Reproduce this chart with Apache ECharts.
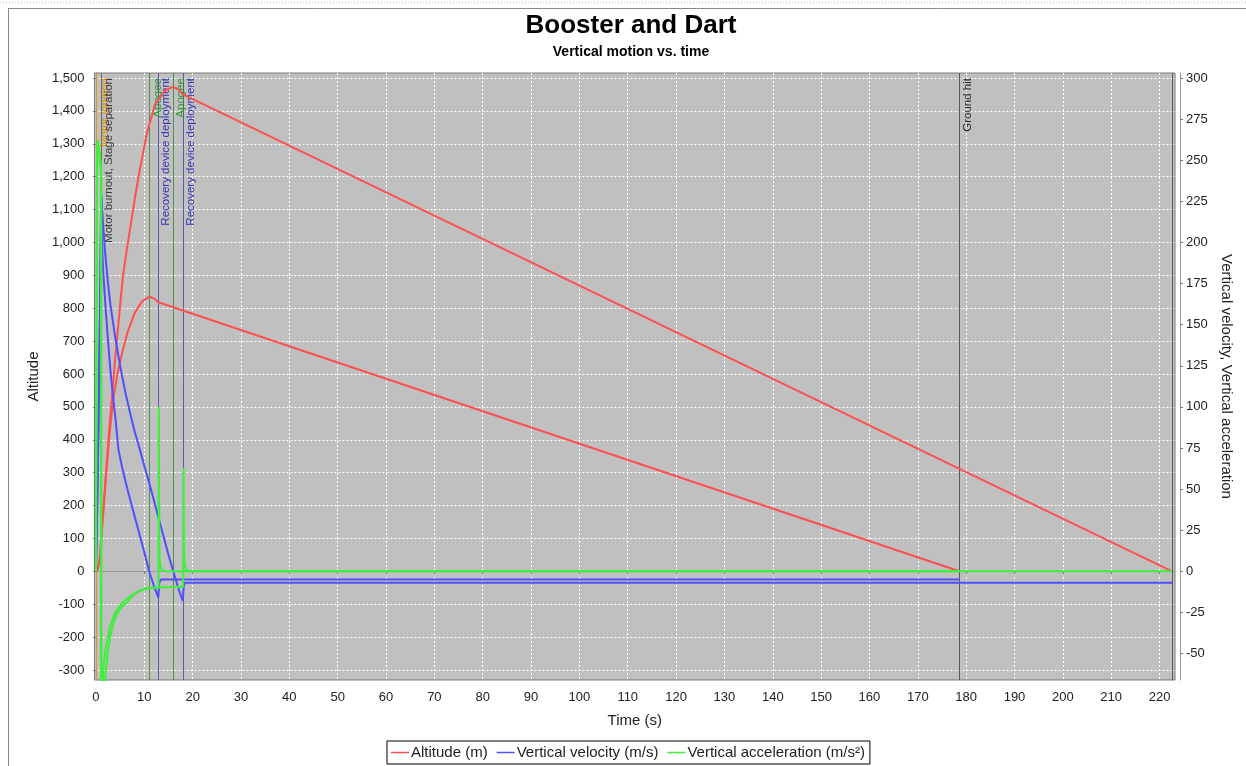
<!DOCTYPE html>
<html>
<head>
<meta charset="utf-8">
<script src="https://cdn.jsdelivr.net/npm/echarts@6/dist/echarts.min.js"></script>
<style>
html,body{margin:0;padding:0;background:#fff;}
#chart{width:1246px;height:766px;}
</style>
</head>
<body>
<div id="chart"></div>
<script>
// ---------- data ----------
const titleText = 'Booster and Dart';
const subtitleText = 'Vertical motion vs. time';
const xAxisName = 'Time (s)';
const leftAxisName = 'Altitude';
const rightAxisName = 'Vertical velocity, Vertical acceleration';
const legendNames = ['Altitude (m)', 'Vertical velocity (m/s)', 'Vertical acceleration (m/s²)'];

const xTicks = [0,10,20,30,40,50,60,70,80,90,100,110,120,130,140,150,160,170,180,190,200,210,220];
const altTicks = [-300,-200,-100,0,100,200,300,400,500,600,700,800,900,1000,1100,1200,1300,1400,1500];
const rightTicks = [-50,-25,0,25,50,75,100,125,150,175,200,225,250,275,300];

// Booster altitude (m)
const boosterAltTime = [0,0.4,0.8,1.1,1.6,2.0,2.55,3.0,3.6,4.5,5.6,6.5,8.0,9.5,11.0,12.0,12.9,13.3,178.6];
const boosterAlt     = [0,8,40,100,195,270,375,445,525,605,675,725,785,820,835,830,818,813,0];
// Dart altitude (m)
const dartAltTime = [0,0.4,0.8,1.1,1.6,2.0,2.55,3.0,4.0,5.0,5.6,6.35,8.05,9.0,10.5,12.2,14.3,15.9,17.0,18.0,18.3,222.6];
const dartAlt     = [0,8,40,100,205,285,395,475,650,810,900,975,1134,1215,1330,1420,1462,1473,1466,1450,1447,0];

// Booster vertical velocity (m/s)
const boosterVelTime = [0,0.3,0.6,0.9,1.1,1.25,1.5,2.0,2.5,3.0,3.5,4.0,4.65,5.5,6.5,7.5,8.5,9.5,10.5,11.0,12.0,12.9,13.1,13.4,178.6];
const boosterVel     = [0,45,105,170,229,200,182,160,140,122,107,94,74,62,50,39,28,17,6,0,-9,-16,-7,-5,-5];
// Dart vertical velocity (m/s)
const dartVelTime = [0,0.3,0.6,0.9,1.1,1.5,1.86,2.5,3.0,4.0,5.0,6.0,7.0,8.0,9.1,10.0,11.0,12.0,13.0,14.0,15.0,16.0,17.0,17.95,18.15,18.4,222.6];
const dartVel     = [0,45,105,170,229,210,195,175,162,142,125,110,97,85,74,64,54,43,32,21,10,0,-10,-18,-9,-7,-7];

// Booster vertical acceleration (m/s²)
const boosterAccTime = [0,0.1,0.2,0.35,0.6,0.9,1.08,1.1,1.3,1.6,1.86,2.4,3.0,3.6,4.5,5.5,6.35,7.5,9.0,10.5,12.0,12.95,13.0,13.1,13.3,13.7,14.5,178.6];
const boosterAcc     = [0,120,235,262,258,250,242,-250,-150,-95,-67,-50,-39,-31.5,-25,-21,-19.3,-15,-12,-10.5,-10,-9.9,100,12,3,0.5,0,0];
// Dart vertical acceleration (m/s²)
const dartAccTime = [0,0.1,0.2,0.35,0.6,0.9,1.08,1.1,1.2,1.5,2.0,2.9,4.0,5.5,7.0,8.5,10.5,13.0,16.0,17.4,18.05,18.1,18.2,18.4,18.8,19.5,222.6];
const dartAcc     = [0,120,235,262,258,250,242,-120,-80,-60,-47,-33.7,-25,-19,-15.5,-12.5,-10.3,-9.9,-9.6,-9.4,-9.5,63,12,3,0.5,0,0];

// Flight events
const eventTimes = [0.1, 1.05, 11.05, 12.9, 15.9, 18.0, 178.6, 222.6];
const eventNames = ['Motor ignition','Motor burnout, Stage separation','Apogee','Recovery device deployment','Apogee','Recovery device deployment','Ground hit',''];
const eventKinds = ['ignition','burnout','apogee','recovery','apogee','recovery','ground','ground'];

// ---------- styles ----------
const FONT = '"Liberation Sans", Arial, sans-serif';
const kindStyle = {
  ignition: {line:'#d9962a', text:'#d98f10'},
  burnout:  {line:'#6e6e6e', text:'#3c3c3c'},
  apogee:   {line:'#4f8f4f', text:'#2f9a2f'},
  recovery: {line:'#5b5ba8', text:'#3535b5'},
  ground:   {line:'#5a5a5a', text:'#2a2a2a'}
};
const RED = '#ff4f4f', BLUE = '#4f4fff', GREEN = '#3cf03c';

const zip = (t, v) => t.map((x, i) => [x, v[i]]);

const eventData = eventTimes.map((t, i) => ({
  xAxis: t,
  name: eventNames[i],
  lineStyle: {color: kindStyle[eventKinds[i]].line, width: 1, type: 'solid'},
  label: {show: eventNames[i] !== '', color: kindStyle[eventKinds[i]].text}
}));

function lineSeries(name, data, color, yIdx) {
  return {
    name: name, type: 'line', data: data, yAxisIndex: yIdx,
    showSymbol: false, symbol: 'none', smooth: false,
    lineStyle: {color: color, width: 2}, itemStyle: {color: color},
    animation: false, silent: true, clip: true, z: 3
  };
}

const chart = echarts.init(document.getElementById('chart'), null, {renderer: 'canvas'});
const option = {
  backgroundColor: '#ffffff',
  animation: false,
  title: {
    text: titleText,
    subtext: subtitleText,
    left: 626, top: 8, textAlign: 'center', itemGap: 6,
    textStyle: {fontFamily: FONT, fontSize: 26, fontWeight: 'bold', color: '#000'},
    subtextStyle: {fontFamily: FONT, fontSize: 14, fontWeight: 'bold', color: '#000'}
  },
  graphic: [
    {type: 'line', shape: {x1: 8, y1: 8.5, x2: 1246, y2: 8.5}, style: {stroke: '#8a8a8a', lineWidth: 1}},
    {type: 'line', shape: {x1: 8.5, y1: 8, x2: 8.5, y2: 766}, style: {stroke: '#8a8a8a', lineWidth: 1}},
    {type: 'line', shape: {x1: 0, y1: 2.5, x2: 1246, y2: 2.5}, style: {stroke: '#d8d8d8', lineWidth: 2, lineDash: [1, 2]}}
  ],
  legend: {
    data: legendNames.map((n, i) => ({name: n, icon: 'rect', itemStyle: {color: [RED, BLUE, GREEN][i]}})),
    left: 387, bottom: 2,
    itemWidth: 18, itemHeight: 1.5, itemGap: 9,
    padding: [4, 5, 4, 4],
    borderColor: '#000', borderWidth: 1,
    textStyle: {fontFamily: FONT, fontSize: 15, color: '#222', padding: [0, 0, 0, -3]},
    selectedMode: false
  },
  grid: {left: 94.5, right: 71, top: 73, bottom: 86, show: true, backgroundColor: '#c0c0c0', borderColor: '#7a7a7a', borderWidth: 1, containLabel: false, outerBoundsMode: 'none'},
  xAxis: {
    type: 'value', min: -0.3, max: 223.2,
    name: xAxisName, nameLocation: 'middle', nameGap: 28,
    nameTextStyle: {fontFamily: FONT, fontSize: 15, color: '#222'},
    offset: 5,
    axisLine: {show: true, lineStyle: {color: '#9a9a9a'}},
    axisTick: {show: true, length: 3, customValues: xTicks, lineStyle: {color: '#777'}},
    axisLabel: {customValues: xTicks, fontFamily: FONT, fontSize: 13, color: '#222', margin: 6},
    splitLine: {show: true, lineStyle: {color: '#ffffff', type: [2, 2], width: 1}}
  },
  yAxis: [
    {
      type: 'value', min: -330.5, max: 1515.2, position: 'left',
      name: leftAxisName, nameLocation: 'middle', nameGap: 49,
      nameTextStyle: {fontFamily: FONT, fontSize: 15, color: '#222'},
      offset: 4,
      axisLine: {show: true, lineStyle: {color: '#9a9a9a'}},
      axisTick: {show: true, length: 3, customValues: altTicks, lineStyle: {color: '#777'}},
      axisLabel: {customValues: altTicks, fontFamily: FONT, fontSize: 13, color: '#222', margin: 6,
        formatter: v => v.toLocaleString('en-US')},
      splitLine: {show: true, lineStyle: {color: '#ffffff', type: [2, 2], width: 1}}
    },
    {
      type: 'value', min: -66.1, max: 303.04, position: 'right',
      name: rightAxisName, nameLocation: 'middle', nameGap: 35, nameRotate: -90,
      nameTextStyle: {fontFamily: FONT, fontSize: 15, color: '#222'},
      offset: 5,
      axisLine: {show: true, lineStyle: {color: '#9a9a9a'}},
      axisTick: {show: true, length: 3, customValues: rightTicks, lineStyle: {color: '#777'}},
      axisLabel: {customValues: rightTicks, fontFamily: FONT, fontSize: 13, color: '#222', margin: 6},
      splitLine: {show: false}
    }
  ],
  series: [
    {
      name: 'events', type: 'line', data: [], silent: true, z: 1,
      markLine: {
        silent: true, animation: false, symbol: ['none', 'none'], precision: 3, z: 1,
        label: {position: 'insideEndBottom', distance: [5, 2], fontFamily: FONT, fontSize: 11.5, formatter: p => p.name},
        emphasis: {disabled: true},
        data: eventData
      }
    },
    lineSeries(legendNames[0], zip(boosterAltTime, boosterAlt), RED, 0),
    lineSeries(legendNames[0], zip(dartAltTime, dartAlt), RED, 0),
    lineSeries(legendNames[1], zip(boosterVelTime, boosterVel), BLUE, 1),
    lineSeries(legendNames[1], zip(dartVelTime, dartVel), BLUE, 1),
    lineSeries(legendNames[2], zip(boosterAccTime, boosterAcc), GREEN, 1),
    lineSeries(legendNames[2], zip(dartAccTime, dartAcc), GREEN, 1)
  ]
};
chart.setOption(option);
</script>
</body>
</html>
